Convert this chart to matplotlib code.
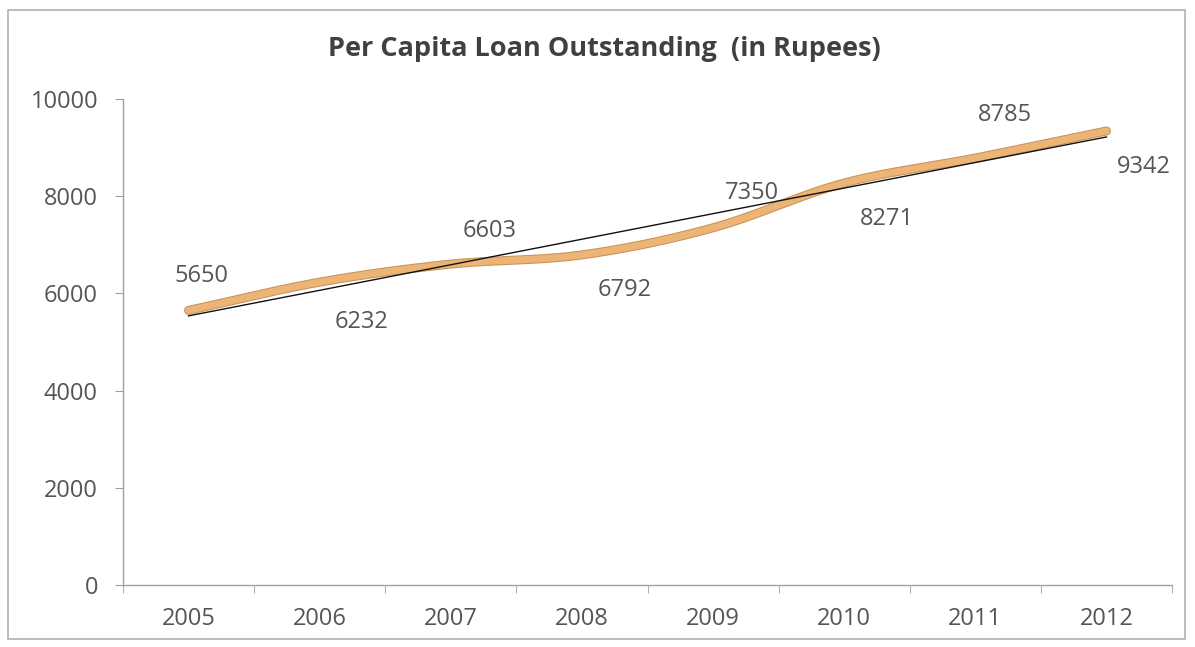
import numpy as np
import matplotlib
matplotlib.use("Agg")
import matplotlib.pyplot as plt
from matplotlib.patches import Rectangle

years = ["2005", "2006", "2007", "2008", "2009", "2010", "2011", "2012"]
values = [5650, 6232, 6603, 6792, 7350, 8271, 8785, 9342]
title = "Per Capita Loan Outstanding  (in Rupees)"
yticks = [0, 2000, 4000, 6000, 8000, 10000]

# label offsets in points (styling)
label_offsets = [(9, 25), (30, -29), (28, 24), (31, -25), (28, 25), (31, -26), (21, 31), (27, -26)]

plt.rcParams['font.family'] = ['Open Sans', 'DejaVu Sans']
text_color = "#555555"
axis_color = "#a0a0a0"

fig = plt.figure(figsize=(11.95, 6.47), dpi=100)
ax = fig.add_axes([0.1029, 0.0958, 0.8779, 0.7512])

x = np.arange(len(values))
y = np.array(values, dtype=float)

# Catmull-Rom smoothing (Excel-like smoothed line)
def catmull_rom(xs, ys, n=40):
    px = np.concatenate([[2 * xs[0] - xs[1]], xs, [2 * xs[-1] - xs[-2]]])
    py = np.concatenate([[2 * ys[0] - ys[1]], ys, [2 * ys[-1] - ys[-2]]])
    outx, outy = [], []
    for i in range(1, len(px) - 2):
        t = np.linspace(0, 1, n)
        p0, p1, p2, p3 = (np.array([px[j], py[j]]) for j in range(i - 1, i + 3))
        pts = 0.5 * ((2 * p1)[:, None] + (-p0 + p2)[:, None] * t
                     + (2 * p0 - 5 * p1 + 4 * p2 - p3)[:, None] * t ** 2
                     + (-p0 + 3 * p1 - 3 * p2 + p3)[:, None] * t ** 3)
        outx.extend(pts[0]); outy.extend(pts[1])
    return np.array(outx), np.array(outy)

sx, sy = catmull_rom(x.astype(float), y)
ax.plot(sx, sy, color="#c99256", lw=6.5, solid_capstyle="round", zorder=2)
ax.plot(sx, sy, color="#ecb577", lw=5, solid_capstyle="round", zorder=3)

# linear trendline
coef = np.polyfit(x, y, 1)
ax.plot(x, np.polyval(coef, x), color="#111111", lw=1.0, zorder=4)

for xi, yi, (dx, dy) in zip(x, values, label_offsets):
    ax.annotate(str(yi), (xi, yi), xytext=(dx, dy), textcoords="offset points",
                ha="center", va="center", fontsize=17, color=text_color, zorder=5)

ax.set_xlim(-0.5, len(values) - 0.5)
ax.set_ylim(0, 10000)
ax.set_yticks(yticks)
ax.set_yticklabels([str(v) for v in yticks], fontsize=17, color=text_color)
ax.set_xticks(x)
ax.set_xticklabels(years, fontsize=17, color=text_color)
ax.set_xticks(np.arange(-0.5, len(values)), minor=True)
ax.tick_params(axis="x", which="major", length=0, pad=16)
ax.tick_params(axis="x", which="minor", length=6, color=axis_color, direction="out")
ax.tick_params(axis="y", length=6, color=axis_color, pad=12)

for s in ["top", "right"]:
    ax.spines[s].set_visible(False)
for s in ["left", "bottom"]:
    ax.spines[s].set_color(axis_color)
    ax.spines[s].set_linewidth(1.0)

fig.text(0.506, 0.925, title, ha="center", va="center", fontsize=19.5,
         fontweight="bold", color="#404040")

fig.patches.append(Rectangle((0.007, 0.012), 0.985, 0.972, transform=fig.transFigure,
                             fill=False, edgecolor="#b0b0b0", lw=1.2))

fig.savefig("out.png", dpi=100, facecolor="white")
